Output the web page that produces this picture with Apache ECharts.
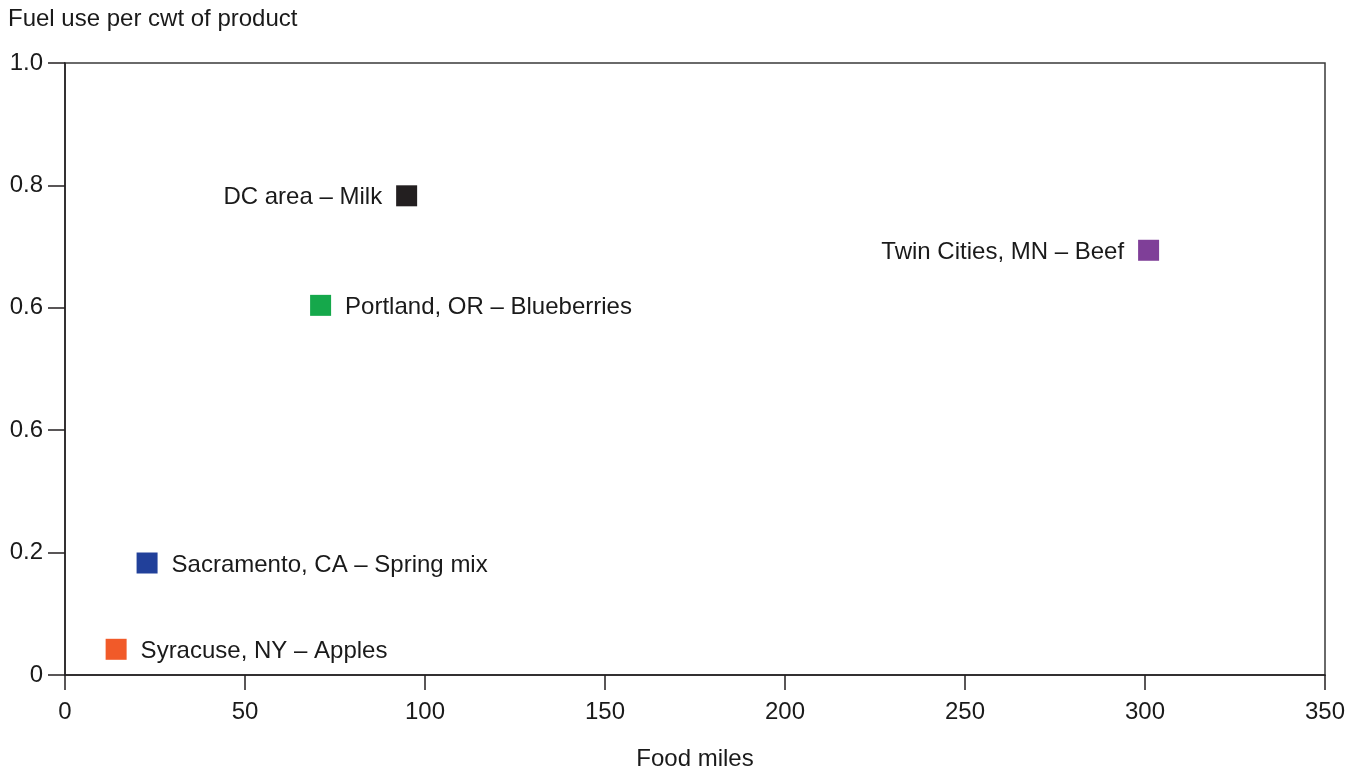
<!DOCTYPE html>
<html><head><meta charset="utf-8">
<script src="https://cdn.jsdelivr.net/npm/echarts@6/dist/echarts.min.js"></script>
<style>html,body{margin:0;padding:0;background:#fff}#c{width:1358px;height:769px}</style>
</head><body><div id="c"></div>
<script>
const names = ['DC area – Milk','Twin Cities, MN – Beef','Portland, OR – Blueberries','Sacramento, CA – Spring mix','Syracuse, NY – Apples'];
const foodMiles = [94.9, 301.0, 71.0, 22.8, 14.2];
const fuelUse = [0.783, 0.694, 0.604, 0.183, 0.042];
const colors = ['#231f20','#7f3f98','#15a84b','#21409a','#f15a29'];
const labelSide = ['left','left','right','right','right'];
const yTickLabels = ['0','0.2','0.6','0.6','0.8','1.0'];
const xTickLabels = ['0','50','100','150','200','250','300','350'];

const FONT = 'Liberation Sans, Arial, sans-serif';
const FS = 24;
const TXT = '#1a1a1a';
const chart = echarts.init(document.getElementById('c'));
const series = names.map((n,i)=>({
  type:'scatter',
  name:n,
  symbol:'rect',
  symbolSize:21,
  itemStyle:{color:colors[i],opacity:1},
  data:[[foodMiles[i], fuelUse[i]]],
  label:{show:true, position:labelSide[i], distance:14, offset:[0,2], formatter:n, color:TXT, opacity:1, fontSize:FS, fontFamily:FONT},
  emphasis:{disabled:true},
  silent:true
}));
chart.setOption({
  animation:false,
  grid:{left:65,right:33,top:63,bottom:94,containLabel:false,outerBoundsMode:'none',show:true,borderColor:'#3a3a3a',borderWidth:1.5,backgroundColor:'transparent'},
  xAxis:{type:'value',min:0,max:350,interval:50,
    name:'Food miles',nameLocation:'middle',nameGap:72,
    nameTextStyle:{fontSize:FS,color:TXT,fontFamily:FONT},
    axisLine:{onZero:false,lineStyle:{color:'#231f20',width:1.5}},
    axisTick:{show:true,length:15,lineStyle:{color:'#231f20',width:1.5}},
    axisLabel:{fontSize:FS,color:TXT,fontFamily:FONT,margin:25,
      formatter:(v)=>xTickLabels[Math.round(v/50)]},
    splitLine:{show:false}},
  yAxis:{type:'value',min:0,max:1,interval:0.2,
    axisLine:{show:true,onZero:false,lineStyle:{color:'#231f20',width:1.5}},
    axisTick:{show:true,length:17,lineStyle:{color:'#231f20',width:1.5}},
    axisLabel:{fontSize:FS,color:TXT,fontFamily:FONT,margin:22,
      formatter:(v)=>yTickLabels[Math.round(v/0.2)]},
    splitLine:{show:false}},
  graphic:[{type:'text',left:8,top:7,style:{text:'Fuel use per cwt of product',fontSize:FS,fill:TXT,fontFamily:FONT}}],
  series
});
</script></body></html>
